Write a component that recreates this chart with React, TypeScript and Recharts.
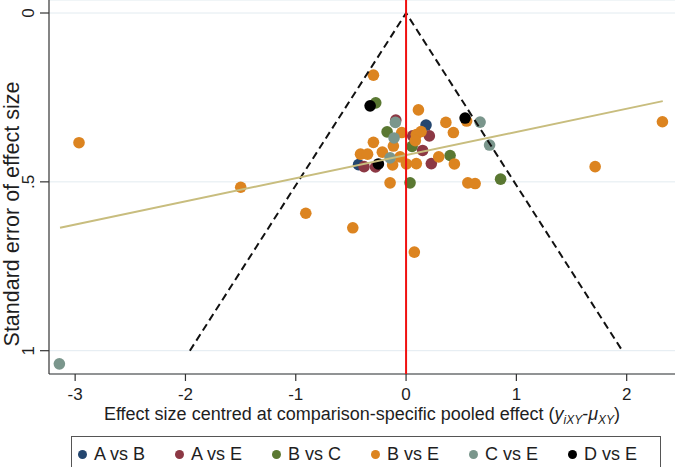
import React from 'react';
import { ScatterChart, Scatter, XAxis, YAxis, CartesianGrid, Legend } from 'recharts';

const FONT = '"Liberation Sans", Arial, Helvetica, sans-serif';
const INK = '#1e1e1e';

// Axis ranges and ticks
const X_DOMAIN: [number, number] = [-3.237, 2.438];
const Y_DOMAIN: [number, number] = [-0.0385, 1.069];
const X_TICKS = [-3, -2, -1, 0, 1, 2];
const Y_TICKS = [0, 0.5, 1];
const Y_TICK_LABELS = ['0', '.5', '1'];

// Comparisons and their marker colours
const comparisons = ['A vs B', 'A vs E', 'B vs C', 'B vs E', 'C vs E', 'D vs E'];
const colors = ['#24466f', '#8c3844', '#5a7832', '#dc8420', '#7a968c', '#000000'];

// Centred effect sizes (x) and standard errors (se) per comparison
const abX = [0.181, -0.431];
const abSE = [0.332, 0.449];

const aeX = [-0.093, 0.211, 0.06, 0.15, 0.229, -0.381, -0.277];
const aeSE = [0.317, 0.364, 0.364, 0.407, 0.446, 0.455, 0.456];

const bcX = [-0.275, -0.172, 0.054, 0.399, 0.036, 0.857];
const bcSE = [0.266, 0.352, 0.395, 0.422, 0.503, 0.492];

const beX = [
  -2.965, -1.499, -0.909, -0.483, 0.075, -0.296, 0.112, 0.549, 0.361, 0.429,
  -0.039, 0.136, 0.093, 0.084, -0.296, -0.115, -0.413, -0.349, -0.215, -0.054,
  0.296, -0.122, 0.003, 0.093, 0.438, -0.145, 0.56, 0.626, 1.714, 2.324,
];
const beSE = [
  0.384, 0.516, 0.593, 0.636, 0.708, 0.184, 0.287, 0.32, 0.324, 0.354,
  0.354, 0.351, 0.36, 0.378, 0.383, 0.394, 0.418, 0.418, 0.412, 0.426,
  0.426, 0.45, 0.447, 0.446, 0.447, 0.503, 0.503, 0.505, 0.455, 0.322,
];

const ceX = [-0.097, -0.109, -0.145, 0.671, 0.757, -3.143];
const ceSE = [0.324, 0.37, 0.429, 0.323, 0.391, 1.039];

const deX = [-0.326, 0.535, -0.251];
const deSE = [0.275, 0.311, 0.447];

// Pseudo 95% confidence funnel (x = ±1.96·se)
const funnelX = [-1.96, 0, 1.96];
const funnelSE = [1, 0, 1];

// Fitted line (Egger-type regression) endpoints
const regX = [-3.137, 2.327];
const regSE = [0.636, 0.261];

const zip = (xs: number[], ys: number[]) => xs.map((x, i) => ({ x, y: ys[i] }));

const seriesX = [abX, aeX, bcX, beX, ceX, deX];
const seriesSE = [abSE, aeSE, bcSE, beSE, ceSE, deSE];

const noMarker = () => <g />;

const XTick = (props: any) => {
  const { x, y, payload } = props;
  return (
    <text x={x} y={y + 17} textAnchor="middle" fontSize={17} fontFamily={FONT} fill={INK}>
      {payload.value}
    </text>
  );
};

const YTick = (props: any) => {
  const { x, y, payload } = props;
  const idx = Y_TICKS.indexOf(payload.value);
  return (
    <text
      transform={`translate(${x - 4},${y}) rotate(-90)`}
      textAnchor="middle"
      fontSize={17}
      fontFamily={FONT}
      fill={INK}
    >
      {Y_TICK_LABELS[idx] ?? payload.value}
    </text>
  );
};

const XTitle = (props: any) => {
  const vb = props.viewBox || { x: 49, y: 374, width: 626 };
  const cx = vb.x + vb.width / 2;
  return (
    <text x={cx} y={vb.y + 46} textAnchor="middle" fontSize={18} fontFamily={FONT} fill={INK}>
      Effect size centred at comparison-specific pooled effect (
      <tspan fontStyle="italic">y</tspan>
      <tspan fontStyle="italic" fontSize={12} dy={4}>iXY</tspan>
      <tspan dy={-4}>-</tspan>
      <tspan fontStyle="italic">μ</tspan>
      <tspan fontStyle="italic" fontSize={12} dy={4}>XY</tspan>
      <tspan dy={-4}>)</tspan>
    </text>
  );
};

const YTitle = (props: any) => {
  const vb = props.viewBox || { x: 0, y: 0, width: 49, height: 374 };
  const cy = vb.y + vb.height / 2 + 27;
  return (
    <text
      transform={`translate(19,${cy}) rotate(-90)`}
      textAnchor="middle"
      fontSize={21.5}
      fontFamily={FONT}
      fill={INK}
    >
      Standard error of effect size
    </text>
  );
};

const LegendBox = () => (
  <div
    style={{
      border: '1px solid #555',
      boxSizing: 'border-box',
      width: '100%',
      height: '100%',
      display: 'flex',
      alignItems: 'center',
      paddingLeft: 6,
      gap: 30,
      fontFamily: FONT,
      fontSize: 18,
      color: INK,
      background: '#fff',
    }}
  >
    {comparisons.map((name, i) => (
      <div key={name} style={{ display: 'flex', alignItems: 'center', gap: 7, whiteSpace: 'nowrap' }}>
        <svg width={9} height={9}>
          <circle cx={4.5} cy={4.5} r={4.5} fill={colors[i]} />
        </svg>
        <span>{name}</span>
      </div>
    ))}
  </div>
);

export default function App() {
  return (
    <div style={{ position: 'absolute', left: 0, top: 0, width: 676, height: 467, background: '#fff', overflow: 'hidden' }}>
      <ScatterChart width={676} height={467} margin={{ top: 0, right: 1, bottom: 53, left: 0 }}>
        <CartesianGrid horizontal vertical={false} stroke="#e2ebf0" strokeWidth={1} />
        <XAxis
          type="number"
          dataKey="x"
          domain={X_DOMAIN}
          ticks={X_TICKS}
          allowDataOverflow
          height={40}
          tickSize={7}
          tick={<XTick />}
          tickLine={{ stroke: '#333', strokeWidth: 1.2 }}
          axisLine={{ stroke: '#333', strokeWidth: 1.2 }}
          label={<XTitle />}
        />
        <YAxis
          type="number"
          dataKey="y"
          domain={Y_DOMAIN}
          ticks={Y_TICKS}
          reversed
          allowDataOverflow
          width={49}
          tickSize={9}
          tick={<YTick />}
          tickLine={{ stroke: '#333', strokeWidth: 1.2 }}
          axisLine={{ stroke: '#333', strokeWidth: 1.2 }}
          label={<YTitle />}
        />
        {comparisons.map((name, i) => (
          <Scatter
            key={name}
            name={name}
            data={zip(seriesX[i], seriesSE[i])}
            fill={colors[i]}
            isAnimationActive={false}
            shape={(p: any) => <circle cx={p.cx} cy={p.cy} r={5.8} fill={colors[i]} />}
          />
        ))}
        <Scatter
          data={zip(funnelX, funnelSE)}
          isAnimationActive={false}
          legendType="none"
          shape={noMarker}
          line={{ stroke: '#111', strokeWidth: 2, strokeDasharray: '7.5 4.5' }}
        />
        <Scatter
          data={zip(regX, regSE)}
          isAnimationActive={false}
          legendType="none"
          shape={noMarker}
          line={{ stroke: '#c8bd7e', strokeWidth: 2 }}
        />
        <Scatter
          data={zip([0, 0], Y_DOMAIN)}
          isAnimationActive={false}
          legendType="none"
          shape={noMarker}
          line={{ stroke: '#f01010', strokeWidth: 2 }}
        />
        <Legend
          layout="horizontal"
          verticalAlign="middle"
          align="center"
          content={<LegendBox />}
          wrapperStyle={{ top: 436, left: 71, width: 590, height: 36 }}
        />
      </ScatterChart>
    </div>
  );
}
